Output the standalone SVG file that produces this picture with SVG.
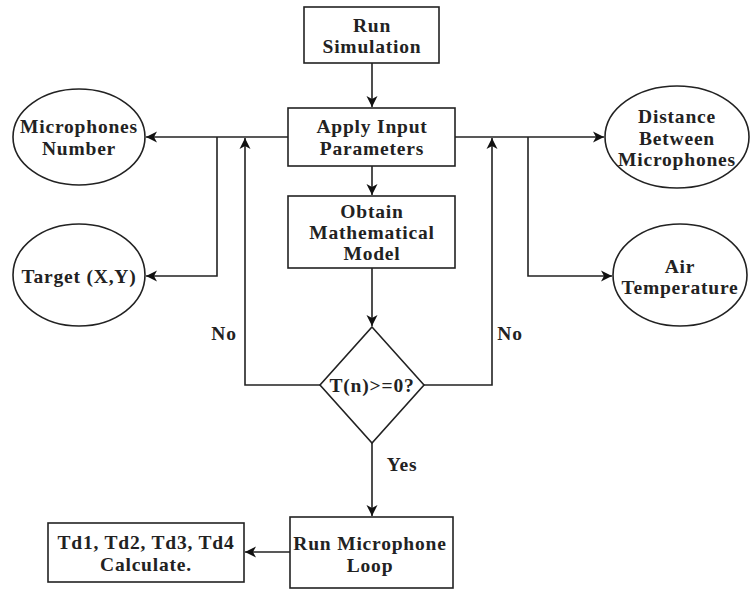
<svg xmlns="http://www.w3.org/2000/svg" width="750" height="591" viewBox="0 0 750 591">
<defs>
<marker id="arr" markerUnits="userSpaceOnUse" markerWidth="12" markerHeight="12" viewBox="0 0 12 12" refX="11" refY="6" orient="auto">
<path d="M0,0.5 L11,6 L0,11.5 L3,6 Z" fill="#111"/>
</marker>
<style>
.s{fill:#fff;stroke:#222;stroke-width:1.6}
.t{font-family:"Liberation Serif","Times New Roman",serif;font-weight:bold;font-size:19.5px;letter-spacing:0.8px;fill:#222;text-anchor:middle;dominant-baseline:central}
.c{fill:none;stroke:#222;stroke-width:1.6}
</style>
</defs>
<rect width="750" height="591" fill="#fff"/>
<g id="connectors">
<path class="c" d="M372,63 V107" marker-end="url(#arr)"/>
<path class="c" d="M372,166 V195" marker-end="url(#arr)"/>
<path class="c" d="M372,268 V326" marker-end="url(#arr)"/>
<path class="c" d="M372,443 V516" marker-end="url(#arr)"/>
<path class="c" d="M288,137 H146" marker-end="url(#arr)"/>
<path class="c" d="M217,137 V276 H146" marker-end="url(#arr)"/>
<path class="c" d="M455,137 H604" marker-end="url(#arr)"/>
<path class="c" d="M528,137 V276 H612" marker-end="url(#arr)"/>
<path class="c" d="M320,385 H245 V138" marker-end="url(#arr)"/>
<path class="c" d="M423,385 H492 V138" marker-end="url(#arr)"/>
<path class="c" d="M290,552 H245" marker-end="url(#arr)"/>
<text class="t" x="224" y="333">No</text>
<text class="t" x="510" y="333">No</text>
<text class="t" x="402" y="464">Yes</text>
</g>
<g id="run-simulation">
<rect class="s" x="304" y="7" width="135" height="56"/>
<text class="t" x="372" y="25">Run</text>
<text class="t" x="372" y="46">Simulation</text>
</g>
<g id="apply-input">
<rect class="s" x="288" y="108" width="167" height="58"/>
<text class="t" x="372" y="126.5">Apply Input</text>
<text class="t" x="372" y="148">Parameters</text>
</g>
<g id="obtain-model">
<rect class="s" x="288" y="196" width="167" height="72"/>
<text class="t" x="372" y="211">Obtain</text>
<text class="t" x="372" y="232">Mathematical</text>
<text class="t" x="372" y="253">Model</text>
</g>
<g id="microphones-number">
<ellipse class="s" cx="79" cy="137" rx="66" ry="48"/>
<text class="t" x="79" y="126.5">Microphones</text>
<text class="t" x="79" y="148">Number</text>
</g>
<g id="target">
<ellipse class="s" cx="79" cy="275" rx="66" ry="51"/>
<text class="t" x="79" y="276">Target (X,Y)</text>
</g>
<g id="distance">
<ellipse class="s" cx="677" cy="137" rx="72" ry="51"/>
<text class="t" x="677" y="116.5">Distance</text>
<text class="t" x="677" y="138">Between</text>
<text class="t" x="677" y="159.5">Microphones</text>
</g>
<g id="air-temperature">
<ellipse class="s" cx="680" cy="275" rx="67" ry="51"/>
<text class="t" x="680" y="266">Air</text>
<text class="t" x="680" y="287">Temperature</text>
</g>
<g id="decision">
<polygon class="s" points="372,327 424,385 372,443 320,385"/>
<text class="t" x="372" y="385">T(n)&gt;=0?</text>
</g>
<g id="run-loop">
<rect class="s" x="290" y="517" width="163" height="71"/>
<text class="t" x="370" y="543">Run Microphone</text>
<text class="t" x="370" y="565">Loop</text>
</g>
<g id="td-calc">
<rect class="s" x="48" y="523" width="196" height="59"/>
<text class="t" x="146" y="542.5">Td1, Td2, Td3, Td4</text>
<text class="t" x="146" y="564">Calculate.</text>
</g>
</svg>
